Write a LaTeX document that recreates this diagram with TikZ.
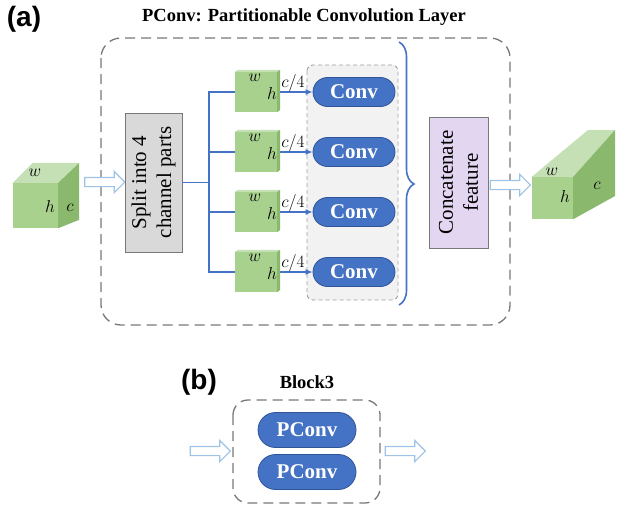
\documentclass[tikz,border=0pt]{standalone}
\usepackage{fontspec}
\setmainfont{Liberation Serif}
\newfontfamily\tagfont{Liberation Sans}
\usetikzlibrary{shapes.arrows}
\usetikzlibrary{shapes.misc}
\usetikzlibrary{arrows.meta}
\usetikzlibrary{decorations.pathreplacing}

\definecolor{convblue}{RGB}{68,114,196}
\definecolor{convedge}{RGB}{47,85,151}
\definecolor{hollowblue}{RGB}{157,195,230}
\definecolor{framegray}{RGB}{120,120,120}
\definecolor{splitgray}{RGB}{217,217,217}
\definecolor{catpurple}{RGB}{226,214,240}
\definecolor{panelgray}{RGB}{242,242,242}
\definecolor{cubefront}{RGB}{169,209,142}
\definecolor{cubetop}{RGB}{197,224,180}
\definecolor{cubeside}{RGB}{138,184,108}

\tikzstyle{frame} = [draw=framegray, line width=1.3pt, dash pattern=on 10pt off 6pt, rounded corners=20pt]
\tikzstyle{panel} = [draw=framegray!70, fill=panelgray, line width=0.9pt, dash pattern=on 4pt off 3pt, rounded corners=6pt]
\tikzstyle{conv} = [rounded rectangle, fill=convblue, draw=convedge, line width=0.8pt, text=white, font=\fontsize{21}{24}\selectfont\bfseries, minimum width=82pt, minimum height=29pt, inner sep=0pt]
\tikzstyle{vbox} = [draw=framegray, line width=0.8pt, rotate=90, align=center, font=\fontsize{21}{25}\selectfont, inner sep=0pt]
\tikzstyle{face} = [fill=cubefront, inner sep=0pt]
\tikzstyle{hollow} = [single arrow, draw=hollowblue, fill=white, line width=1.1pt, minimum height=40pt, inner xsep=0pt, inner ysep=4pt, single arrow head extend=6pt, single arrow head indent=0pt, single arrow tip angle=90]
\tikzstyle{wire} = [draw=convblue, line width=1.3pt]
\tikzstyle{lbl} = [font=\fontsize{17.5}{18}\selectfont, inner sep=0pt]
\tikzstyle{heading} = [font=\fontsize{18.5}{20}\selectfont\bfseries]
\tikzstyle{tag} = [font=\tagfont\fontsize{28}{30}\selectfont\bfseries]

\begin{document}
\begin{tikzpicture}[x=1pt, y=-1pt]
    \useasboundingbox (0,0) rectangle (617,509);

    % (a) partitionable convolution
    \node[tag] (taga) at (24,19) {(a)};
    \node[heading] (title) at (304,17) {PConv: Partitionable Convolution Layer};
    \draw[frame] (101,38) rectangle (510,325);
    \draw[panel] (307,65) rectangle (398,300);

    % input feature map
    \node[face, minimum width=45pt, minimum height=45pt] (cin) at (35.5,205.5) {};
    \fill[cubetop] (cin.north west) -- ++(20,-20) -- ++(46,0) -- (cin.north east) -- cycle;
    \fill[cubeside] (cin.north east) -- ++(21,-20) -- ++(0,57) -- (cin.south east) -- cycle;
    \node[lbl] at (35,173) {$w$};
    \node[lbl] at (50,206) {$h$};
    \node[lbl] at (70,208) {$c$};
    \node[hollow] (ain) at (102.5,182) {};

    \node[vbox, fill=splitgray, minimum width=139pt, minimum height=57pt] (split) at (153.5,182.5) {Split into 4\\channel parts};
    \coordinate (fork) at (209,182.5);
    \draw[wire] (split.south) -- (fork);

    \foreach \i/\y in {1/92, 2/152, 3/212, 4/272} {
        \node[face, minimum width=42pt, minimum height=40pt] (p\i) at (256,\y) {};
        \node[conv] (c\i) at (354,\y) {Conv};
        \draw[wire] (fork) |- (p\i.west);
        \draw[wire, -{Latex[length=7pt, width=6pt]}] (p\i.east) -- (c\i.west);
        \fill[cubetop] (p\i.north west) -- ++(3,-2) -- ++(42,0) -- (p\i.north east) -- cycle;
        \fill[cubeside] (p\i.north east) -- ++(3,-2) -- ++(0,40) -- (p\i.south east) -- cycle;
        \node[lbl] at (255,\y-14) {$w$};
        \node[lbl] at (272,\y+1) {$h$};
        \node[lbl] at (293,\y-9) {$c/4$};
    }

    \draw[wire, line width=1.6pt, decorate, decoration={brace, amplitude=15pt, aspect=0.54}] (399,42) -- (399,305);

    \node[vbox, fill=catpurple, minimum width=131pt, minimum height=59pt] (concat) at (458.5,182.5) {Concatenate\\feature};
    \node[hollow] (aout) at (508,185) {};

    % output feature map
    \node[face, minimum width=41pt, minimum height=42pt] (cout) at (552.5,198) {};
    \fill[cubetop] (cout.north west) -- (588,130) -- (615,130) -- (cout.north east) -- cycle;
    \fill[cubeside] (cout.north east) -- (615,130) -- (615,196) -- (cout.south east) -- cycle;
    \node[lbl] at (552,172) {$w$};
    \node[lbl] at (565,196) {$h$};
    \node[lbl] at (597,186) {$c$};

    % (b) block of two PConv layers
    \node[tag] (tagb) at (199,382) {(b)};
    \node[heading] (block) at (307,382) {Block3};
    \draw[frame, rounded corners=15pt] (233,400) rectangle (380,503);
    \node[conv, minimum width=98pt, minimum height=35pt] (pc1) at (307,430) {PConv};
    \node[conv, minimum width=98pt, minimum height=35pt] (pc2) at (307,472) {PConv};
    \node[hollow] (bin) at (208,451) {};
    \node[hollow] (bout) at (403,451) {};
\end{tikzpicture}
\end{document}
